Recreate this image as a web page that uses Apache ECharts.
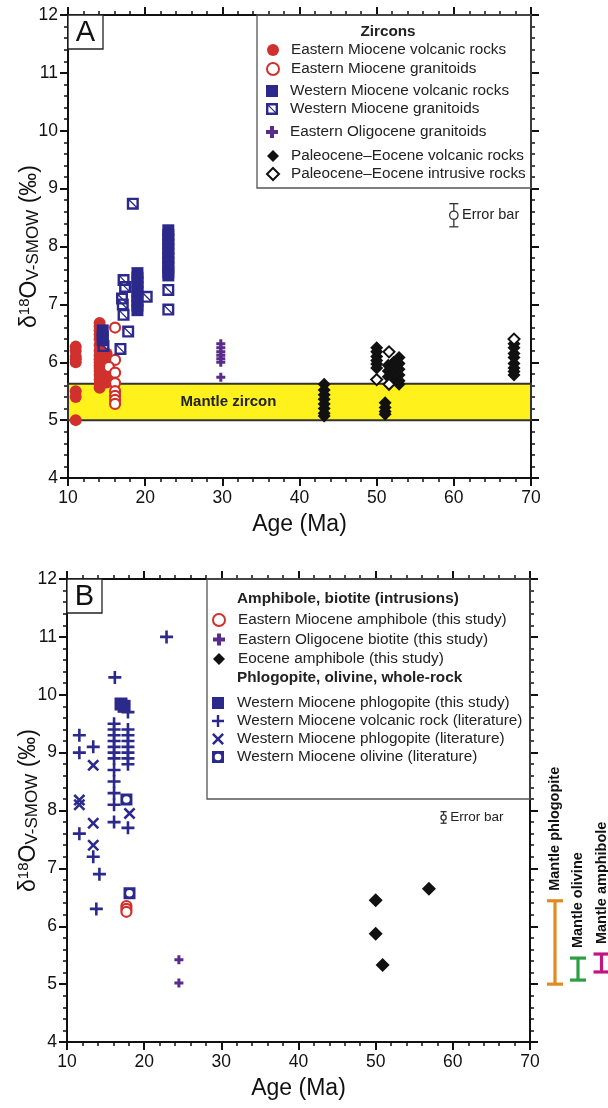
<!DOCTYPE html>
<html>
<head>
<meta charset="utf-8">
<script src="https://cdn.jsdelivr.net/npm/echarts@6/dist/echarts.min.js"></script>
<style>
html,body{margin:0;padding:0;background:#fff;}
#chart{width:608px;height:1108px;}
</style>
</head>
<body>
<div id="chart"></div>
<script>
// ---- panel A: zircon d18O, [age (Ma), d18O] ----
var zEastMioVolc = [
  [11,6.27],[11,6.2],[11,6.1],[11,6.05],[11,6.0],[11,5.5],[11,5.4],[11,5.0],
  [14.1,6.68],[14.1,6.62],[14.1,6.55],[14.1,6.48],[14.1,6.4],[14.1,6.3],[14.1,6.2],[14.1,6.12],[14.1,6.05],
  [14.1,6.0],[14.1,5.95],[14.1,5.9],[14.1,5.85],[14.1,5.78],[14.1,5.7],[14.1,5.62],[14.1,5.56],
  [15.0,6.15],[15.0,6.05],[15.0,5.95],[15.0,5.85],[15.0,5.75],[15.0,5.65]
];
var zEastMioGran = [[16.1,6.6],[16.1,6.04],[15.3,5.92],[16.1,5.82],[16.1,5.64],[16.1,5.5],[16.1,5.42],[16.1,5.35],[16.1,5.28]];
var zWestMioVolc = [
  [14.5,6.55],[14.5,6.45],[14.5,6.38],
  [19,7.54],[19,7.46],[19,7.38],[19,7.3],[19,7.22],[19,7.14],[19,7.06],[19,6.98],[19,6.9],
  [23,8.28],[23,8.2],[23,8.12],[23,8.04],[23,7.96],[23,7.88],[23,7.8],[23,7.72],[23,7.64],[23,7.56],[23,7.5]
];
var zWestMioGran = [[18.4,8.74],[23,7.25],[23,6.91],[17.2,7.42],[17.4,7.3],[17.0,7.1],[17.1,7.0],[17.2,6.82],
  [17.8,6.53],[20.2,7.13],[16.8,6.23],[14.6,6.28]];
var zEastOligGran = [[29.8,6.32],[29.8,6.25],[29.8,6.18],[29.8,6.12],[29.8,6.06],[29.8,6.0],[29.8,5.74]];
var zPalEocVolc = [
  [43.2,5.62],[43.2,5.52],[43.2,5.44],[43.2,5.36],[43.2,5.28],[43.2,5.2],[43.2,5.12],[43.2,5.07],
  [50,6.25],[50,6.18],[50,6.1],[50,6.03],[50,5.97],[50,5.9],
  [51.1,5.3],[51.1,5.22],[51.1,5.15],[51.1,5.1],
  [51.5,5.95],[51.5,5.85],[51.5,5.75],
  [52.2,6.0],[52.2,5.9],[52.2,5.8],[52.2,5.72],
  [52.9,6.08],[52.9,5.98],[52.9,5.88],[52.9,5.78],[52.9,5.68],[52.9,5.62],
  [67.8,6.32],[67.8,6.25],[67.8,6.15],[67.8,6.08],[67.8,5.98],[67.8,5.9],[67.8,5.84],[67.8,5.78]
];
var zPalEocIntr = [[51.6,6.18],[50,5.7],[51.6,5.62],[67.8,6.4]];
var mantleZircon = [5.0, 5.63];
var errA = [[60, 8.54, 0.2]];

// ---- panel B: amphibole, biotite, phlogopite, olivine, whole-rock ----
var bEastMioAmph = [[17.7,6.35],[17.7,6.3],[17.7,6.25]];
var bEastOligBio = [[24.5,5.42],[24.5,5.02]];
var bEoceneAmph = [[50,6.45],[50,5.87],[50.9,5.33],[56.9,6.65]];
var bWestPhlogThis = [[17.0,9.84],[17.4,9.8]];
var bWestVolcLit = [
  [11.6,9.3],[11.6,9.0],[11.6,7.6],[13.4,9.1],[13.4,7.2],[14.2,6.9],[13.8,6.3],[22.9,11.0],[16.2,10.3],
  [16.1,9.5],[16.1,9.4],[16.1,9.3],[16.1,9.2],[16.1,9.1],[16.1,9.0],[16.1,8.9],[16.1,8.7],[16.1,8.5],[16.1,8.3],[16.1,8.1],[16.1,7.8],
  [17.9,9.7],[17.9,9.4],[17.9,9.3],[17.9,9.2],[17.9,9.1],[17.9,9.0],[17.9,8.9],[17.9,8.8],[17.9,7.7]
];
var bWestPhlogLit = [[11.6,8.18],[11.6,8.1],[13.4,8.78],[13.4,7.78],[13.4,7.4],[18.1,7.95]];
var bWestOlivLit = [[17.7,8.19],[18.1,6.57]];
var errB = [[58.8, 7.88, 0.1]];

var mantleNames = ['Mantle phlogopite', 'Mantle olivine', 'Mantle amphibole'];
var mantleLow = [5.0, 5.07, 5.21];
var mantleHigh = [6.44, 5.45, 5.52];

var xTicks = [10, 70, 10];
var yTicks = [4, 12, 1];

// styles
var FONT = 'Liberation Sans, Arial, sans-serif';
var RED = '#D0312D', NAVY = '#2B2A8C', PURPLE = '#5B2B8C', BLACK = '#111111';
var mantleColors = ['#E08A22', '#2E9E44', '#C2167F'];
var mantleOffsets = [25, 48, 71.5];

var SYM_SQ = 'path://M0,0L10,0L10,10L0,10Z';
var SYM_DIA = 'path://M5,0L10,5L5,10L0,5Z';
var SYM_HATCH = 'path://M0,0L20,0L20,20L0,20Z M4,4L4,16L16,16L16,4Z M5.5,4L16,14.5L16,16L14.5,16L4,5.5L4,4Z';
var SYM_PLUS_BOLD = 'path://M3,0L6,0L6,3L9,3L9,6L6,6L6,9L3,9L3,6L0,6L0,3L3,3Z';
var SYM_PLUS_THIN = 'path://M8,0L12,0L12,8L20,8L20,12L12,12L12,20L8,20L8,12L0,12L0,8L8,8Z';
var SYM_X = 'path://M0,3L3,0L10,7L17,0L20,3L13,10L20,17L17,20L10,13L3,20L0,17L7,10Z';
var SYM_OLIV = 'path://M0,0L20,0L20,20L0,20Z M10,4.5A5.5,5.5 0 1,0 10,15.5A5.5,5.5 0 1,0 10,4.5Z';

var grids = [
  {left: 68, top: 15, width: 463, height: 463},
  {left: 67, top: 579, width: 463, height: 463}
];

var tickLine = {length: 8, lineStyle: {width: 2, color: BLACK}};
var minor = {show: true, splitNumber: 5, length: 4, lineStyle: {width: 1.5, color: BLACK}};
var line = {onZero: false, lineStyle: {color: BLACK, width: 2}};

var xAxes = [], yAxes = [];
for (var g = 0; g < 2; g++) {
  xAxes.push({
    gridIndex: g, type: 'value', min: xTicks[0], max: xTicks[1], interval: xTicks[2], position: 'bottom',
    name: 'Age (Ma)', nameLocation: 'middle', nameGap: 35,
    nameTextStyle: {fontSize: 23, color: BLACK, fontFamily: FONT},
    axisLine: line, axisTick: tickLine, minorTick: minor,
    axisLabel: {fontSize: 17.5, color: BLACK, margin: 11, fontFamily: FONT},
    splitLine: {show: false}
  });
  xAxes.push({
    gridIndex: g, type: 'value', min: xTicks[0], max: xTicks[1], interval: xTicks[2], position: 'top',
    axisLine: line, axisTick: tickLine, minorTick: minor,
    axisLabel: {show: false}, splitLine: {show: false}
  });
  yAxes.push({
    gridIndex: g, type: 'value', min: yTicks[0], max: yTicks[1], interval: yTicks[2], position: 'left',
    name: '{a|δ}{sup|18}{a|O}{sub|V-SMOW}{a| (‰)}', nameLocation: 'middle', nameGap: 26, nameRotate: 90,
    nameMoveOverlap: false,
    nameTextStyle: {
      fontSize: 23, color: BLACK, fontFamily: FONT,
      rich: {
        a: {fontSize: 23, color: BLACK, fontFamily: FONT},
        sup: {fontSize: 15, color: BLACK, fontFamily: FONT, padding: [0, 0, 9, 0]},
        sub: {fontSize: 17, color: BLACK, fontFamily: FONT, padding: [8, 0, 0, 0]}
      }
    },
    axisLine: line, axisTick: tickLine, minorTick: minor,
    axisLabel: {fontSize: 17.5, color: BLACK, margin: 10, fontFamily: FONT},
    splitLine: {show: false}
  });
  yAxes.push({
    gridIndex: g, type: 'value', min: yTicks[0], max: yTicks[1], interval: yTicks[2], position: 'right',
    axisLine: line, axisTick: tickLine, minorTick: minor,
    axisLabel: {show: false}, splitLine: {show: false}
  });
}

function sc(name, g, data, symbol, size, style) {
  style.opacity = 1;
  return {type: 'scatter', name: name, xAxisIndex: g * 2, yAxisIndex: g * 2, data: data,
    symbol: symbol, symbolSize: size, itemStyle: style, z: 3, silent: true};
}

function mkErr(r, cap, fs) {
  return function (params, api) {
    var x = api.value(0), y = api.value(1), e = api.value(2);
    var c = api.coord([x, y]), t = api.coord([x, y + e]), b = api.coord([x, y - e]);
    var st = {stroke: '#333', lineWidth: 1.3, fill: null};
    return {type: 'group', children: [
      {type: 'line', shape: {x1: c[0], y1: t[1], x2: c[0], y2: b[1]}, style: st},
      {type: 'line', shape: {x1: c[0] - cap, y1: t[1], x2: c[0] + cap, y2: t[1]}, style: st},
      {type: 'line', shape: {x1: c[0] - cap, y1: b[1], x2: c[0] + cap, y2: b[1]}, style: st},
      {type: 'circle', shape: {cx: c[0], cy: c[1], r: r}, style: {stroke: '#333', lineWidth: 1.3, fill: '#fff'}},
      {type: 'text', x: c[0] + r + 4, y: c[1], style: {text: 'Error bar', font: fs + 'px ' + FONT, fill: '#222', verticalAlign: 'middle', align: 'left'}}
    ]};
  };
}

function renderMantle(params, api) {
  var i = params.dataIndex;
  var lo = api.coord([xTicks[1], api.value(0)]), hi = api.coord([xTicks[1], api.value(1)]);
  var x = params.coordSys.x + params.coordSys.width + mantleOffsets[i];
  var col = mantleColors[i];
  var st = {stroke: col, lineWidth: 3.2, fill: null};
  return {type: 'group', children: [
    {type: 'line', shape: {x1: x, y1: hi[1], x2: x, y2: lo[1]}, style: st},
    {type: 'line', shape: {x1: x - 8, y1: hi[1], x2: x + 8, y2: hi[1]}, style: st},
    {type: 'line', shape: {x1: x - 8, y1: lo[1], x2: x + 8, y2: lo[1]}, style: st},
    {type: 'text', x: x, y: hi[1] - 10, rotation: Math.PI / 2,
      style: {text: mantleNames[i], font: 'bold 14.5px ' + FONT, fill: '#111', align: 'left', verticalAlign: 'middle'}}
  ]};
}

var legendText = {fontSize: 15.3, fontFamily: FONT, color: '#222', lineHeight: 18};
function lg(left, top, w, gap, names) {
  return {orient: 'vertical', left: left, top: top, itemWidth: w, itemHeight: 12, itemGap: gap, padding: 0,
    selectedMode: false, data: names, textStyle: legendText};
}

var seriesA = [
  sc('Eastern Miocene volcanic rocks', 0, zEastMioVolc, 'circle', 12, {color: RED}),
  sc('Eastern Miocene granitoids', 0, zEastMioGran, 'circle', 10, {color: '#fff', borderColor: RED, borderWidth: 2.2}),
  sc('Western Miocene volcanic rocks', 0, zWestMioVolc, SYM_SQ, 12, {color: NAVY}),
  sc('Western Miocene granitoids', 0, zWestMioGran, SYM_HATCH, 12, {color: NAVY}),
  sc('Eastern Oligocene granitoids', 0, zEastOligGran, SYM_PLUS_BOLD, 9, {color: PURPLE}),
  sc('Paleocene–Eocene volcanic rocks', 0, zPalEocVolc, SYM_DIA, 13, {color: BLACK}),
  sc('Paleocene–Eocene intrusive rocks', 0, zPalEocIntr, SYM_DIA, 11, {color: '#fff', borderColor: BLACK, borderWidth: 2})
];
seriesA[0].markArea = {
  silent: true,
  itemStyle: {color: '#FFF21C', borderColor: '#333', borderWidth: 2},
  label: {show: true, position: 'inside', offset: [-71, 0], formatter: 'Mantle zircon',
    fontSize: 15, fontWeight: 'bold', color: '#222', fontFamily: FONT},
  data: [[{yAxis: mantleZircon[0]}, {yAxis: mantleZircon[1]}]]
};

var seriesB = [
  sc('Eastern Miocene amphibole (this study)', 1, bEastMioAmph, 'circle', 10, {color: '#fff', borderColor: RED, borderWidth: 2.2}),
  sc('Eastern Oligocene biotite (this study)', 1, bEastOligBio, SYM_PLUS_BOLD, 9, {color: PURPLE}),
  sc('Eocene amphibole (this study)', 1, bEoceneAmph, SYM_DIA, 14, {color: BLACK}),
  sc('Western Miocene phlogopite (this study)', 1, bWestPhlogThis, SYM_SQ, 13, {color: NAVY}),
  sc('Western Miocene volcanic rock (literature)', 1, bWestVolcLit, SYM_PLUS_THIN, 13, {color: NAVY}),
  sc('Western Miocene phlogopite (literature)', 1, bWestPhlogLit, SYM_X, 12, {color: NAVY}),
  sc('Western Miocene olivine (literature)', 1, bWestOlivLit, SYM_OLIV, 12, {color: NAVY})
];

var extras = [
  {type: 'custom', xAxisIndex: 0, yAxisIndex: 0, data: errA, renderItem: mkErr(4.2, 4.5, 14.5), clip: false, silent: true, z: 4},
  {type: 'custom', xAxisIndex: 2, yAxisIndex: 2, data: errB, renderItem: mkErr(2.6, 3, 13.5), clip: false, silent: true, z: 4},
  {type: 'custom', xAxisIndex: 2, yAxisIndex: 2, data: mantleLow.map(function (v, i) { return [v, mantleHigh[i]]; }),
    renderItem: renderMantle, clip: false, silent: true, z: 4}
];

var option = {
  backgroundColor: '#fff',
  animation: false,
  grid: grids,
  xAxis: xAxes,
  yAxis: yAxes,
  legend: [
    lg(266, 41, 26, 1, ['Eastern Miocene volcanic rocks', 'Eastern Miocene granitoids']),
    lg(266, 82, 26, 0, ['Western Miocene volcanic rocks', 'Western Miocene granitoids']),
    lg(266, 123, 26, 0, ['Eastern Oligocene granitoids']),
    lg(266, 147, 26, 0, ['Paleocene–Eocene volcanic rocks', 'Paleocene–Eocene intrusive rocks']),
    lg(212, 611, 28, 1.5, ['Eastern Miocene amphibole (this study)', 'Eastern Oligocene biotite (this study)', 'Eocene amphibole (this study)']),
    lg(212, 694, 28, 0, ['Western Miocene phlogopite (this study)', 'Western Miocene volcanic rock (literature)',
      'Western Miocene phlogopite (literature)', 'Western Miocene olivine (literature)'])
  ],
  graphic: [
    {type: 'rect', shape: {x: 257, y: 15, width: 274, height: 173}, style: {fill: 'rgba(0,0,0,0)', stroke: '#555', lineWidth: 1.3}, z: 1},
    {type: 'text', x: 388, y: 32, z: 2, style: {text: 'Zircons', font: 'bold 15.3px ' + FONT, fill: '#222', align: 'center', verticalAlign: 'middle'}},
    {type: 'rect', shape: {x: 68, y: 15, width: 35, height: 34}, style: {fill: '#fff', stroke: '#222', lineWidth: 1.3}, z: 1},
    {type: 'text', x: 85.5, y: 33, z: 2, style: {text: 'A', font: '29px ' + FONT, fill: '#111', align: 'center', verticalAlign: 'middle'}},
    {type: 'rect', shape: {x: 207, y: 579, width: 323, height: 220}, style: {fill: 'rgba(0,0,0,0)', stroke: '#555', lineWidth: 1.3}, z: 1},
    {type: 'text', x: 237, y: 599, z: 2, style: {text: 'Amphibole, biotite (intrusions)', font: 'bold 15.3px ' + FONT, fill: '#222', verticalAlign: 'middle'}},
    {type: 'text', x: 237, y: 678, z: 2, style: {text: 'Phlogopite, olivine, whole-rock', font: 'bold 15.3px ' + FONT, fill: '#222', verticalAlign: 'middle'}},
    {type: 'rect', shape: {x: 67, y: 579, width: 35, height: 34}, style: {fill: '#fff', stroke: '#222', lineWidth: 1.3}, z: 1},
    {type: 'text', x: 84.5, y: 597, z: 2, style: {text: 'B', font: '29px ' + FONT, fill: '#111', align: 'center', verticalAlign: 'middle'}}
  ],
  series: seriesA.concat(seriesB, extras)
};

var chart = echarts.init(document.getElementById('chart'));
chart.setOption(option);
</script>
</body>
</html>
